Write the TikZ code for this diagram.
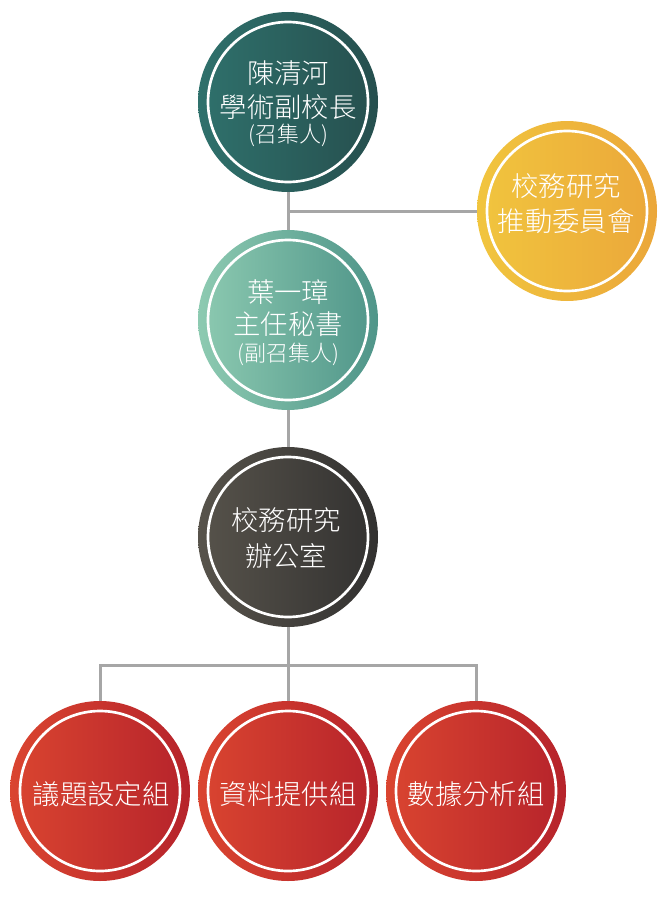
\documentclass[tikz,border=0pt]{standalone}
\usepackage{fontspec}
\newfontfamily\cjk{Noto Sans CJK TC}[UprightFont={* Light}]
\definecolor{tealL}{HTML}{2F716C}
\definecolor{tealR}{HTML}{264F4E}
\definecolor{mintL}{HTML}{8DCAB1}
\definecolor{mintR}{HTML}{4F9589}
\definecolor{darkL}{HTML}{57534B}
\definecolor{darkR}{HTML}{323130}
\definecolor{yelL}{HTML}{F1C53E}
\definecolor{yelR}{HTML}{EBA73A}
\definecolor{redL}{HTML}{DA4530}
\definecolor{redR}{HTML}{B6232B}
\definecolor{linegray}{HTML}{A6A6A6}
\tikzset{
  disc/.style={circle, minimum size=135pt, inner sep=0pt,
    path picture={\draw[white, line width=2pt] (path picture bounding box.center) circle[radius=60pt];}},
  shadeLR/.style 2 args={left color=#1, right color=#2},
  lbl/.style={inner sep=0pt, text=white, font=\cjk\fontsize{20.5}{24}\selectfont},
  lblsm/.style={inner sep=0pt, text=white, font=\cjk\fontsize{16.5}{20}\selectfont},
  conn/.style={draw=linegray, line width=2.25pt}
}
\begin{document}
\begin{tikzpicture}[x=0.75pt, y=-0.75pt]
\useasboundingbox (0,0) rectangle (668,899);
\coordinate (j1) at (288,211);
\coordinate (j2) at (288,665);
% circles
\node[disc, shadeLR={tealL}{tealR}] (top) at (288,102) {};
\node[disc, shadeLR={yelL}{yelR}] (yel) at (567,211) {};
\node[disc, shadeLR={mintL}{mintR}] (sec) at (288,320) {};
\node[disc, shadeLR={darkL}{darkR}] (off) at (288,537) {};
\node[disc, shadeLR={redL}{redR}] (b1) at (100,791) {};
\node[disc, shadeLR={redL}{redR}] (b2) at (288,791) {};
\node[disc, shadeLR={redL}{redR}] (b3) at (476,791) {};
% texts
\node[lbl] (topA) at (288,73.5) {陳清河};
\node[lbl] (topB) at (288,107) {學術副校長};
\node[lblsm] (topC) at (288,135) {(召集人)};
\node[lbl] (yelA) at (566,186.5) {校務研究};
\node[lbl] (yelB) at (566,221) {推動委員會};
\node[lbl] (secA) at (288,292.5) {葉一璋};
\node[lbl] (secB) at (288,324) {主任秘書};
\node[lblsm] (secC) at (288,354) {(副召集人)};
\node[lbl] (offA) at (286,520.5) {校務研究};
\node[lbl] (offB) at (286,556) {辦公室};
\node[lbl] (b1t) at (101,794) {議題設定組};
\node[lbl] (b2t) at (288,794) {資料提供組};
\node[lbl] (b3t) at (476,794) {數據分析組};
% connectors
\draw[conn] (top) -- (sec);
\draw[conn] (sec) -- (off);
\draw[conn] (j1) -- (yel.west);
\draw[conn] (off) -- (b2);
\draw[conn] (b1.north) |- (j2) -| (b3.north);
\end{tikzpicture}
\end{document}
